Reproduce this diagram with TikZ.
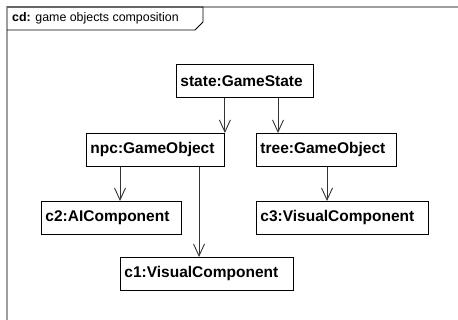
\documentclass[tikz,border=0pt]{standalone}
\usepackage{fontspec}
\setmainfont{Liberation Sans}
\usetikzlibrary{arrows.meta,calc}
\begin{document}
\begin{tikzpicture}[x=1pt,y=-1pt,
  obj/.style={draw=black,line width=0.9pt,fill=white,font=\fontsize{15.5}{17}\selectfont\bfseries,
    inner xsep=4pt,inner ysep=0pt,minimum height=33pt,align=left,anchor=north west},
  arr/.style={draw=black!80,line width=0.9pt,-{Straight Barb[length=12pt,width=11pt,line width=0.9pt]}},
  frame/.style={draw=black!38,line width=1.6pt}]
\useasboundingbox (0,0) rectangle (458,320);
\draw[frame] (458,7) -- (7,7) -- (7,320);
\draw[line width=0.9pt] (7,7) -- (203,7) -- (203,22) -- (195,30) -- (7,30);
\node[anchor=west,inner sep=0pt,font=\fontsize{12.4}{14}\selectfont] (title) at (12,18.5) {\textbf{cd:} game objects composition};
\node[obj,text width=129pt] (state) at (176,64) {state:GameState};
\node[obj,text width=130pt] (npc) at (86,133) {npc:GameObject};
\node[obj,text width=132pt] (tree) at (256,133) {tree:GameObject};
\node[obj,text width=164pt] (c3) at (256,201) {c3:VisualComponent};
\node[obj,text width=132pt] (c2) at (41,201) {c2:AIComponent};
\node[obj,text width=165pt] (c1) at (120,257) {c1:VisualComponent};
\coordinate (a1) at ($(npc.north east)$);
\coordinate (a2) at ($(tree.north west)+(22,0)$);
\coordinate (a3) at ($(c2.north west)+(79,0)$);
\coordinate (a4) at ($(c1.north west)+(79,0)$);
\coordinate (a5) at ($(c3.north west)+(71,0)$);
\draw[arr] (state.south -| a1) -- (a1);
\draw[arr] (state.south -| a2) -- (a2);
\draw[arr] (npc.south -| a3) -- (a3);
\draw[arr] (npc.south -| a4) -- (a4);
\draw[arr] (tree.south -| a5) -- (a5);
\end{tikzpicture}
\end{document}
